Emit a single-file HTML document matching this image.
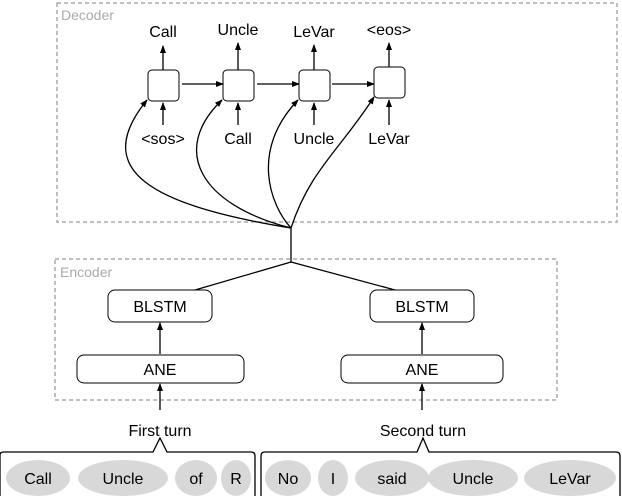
<!DOCTYPE html>
<html><head><style>
body{margin:0;background:#fff;}
svg text{font-family:"Liberation Sans",sans-serif;}
</style></head><body>
<svg width="622" height="496" viewBox="0 0 622 496" xmlns="http://www.w3.org/2000/svg">
<defs><marker id="a" markerWidth="8" markerHeight="8" refX="7" refY="4" orient="auto" markerUnits="userSpaceOnUse"><path d="M0,1 L8,4 L0,7 z" fill="#000"/></marker></defs>
<rect x="57" y="3" width="560" height="219" fill="none" stroke="#aaa" stroke-width="1.5" stroke-dasharray="4,3"/>
<text x="61" y="20" font-size="14" fill="#aaa">Decoder</text>
<rect x="55" y="259" width="502" height="141" fill="none" stroke="#aaa" stroke-width="1.5" stroke-dasharray="4,3"/>
<text x="60" y="277" font-size="14" fill="#aaa">Encoder</text>
<g fill="#fff" stroke="#000" stroke-width="1">
<rect x="148" y="70" width="31" height="31" rx="4"/>
<rect x="223" y="70" width="31" height="31" rx="4"/>
<rect x="299" y="70" width="31" height="31" rx="4"/>
<rect x="374" y="67" width="31" height="31" rx="4"/>
</g>
<g stroke="#000" stroke-width="1.3" marker-end="url(#a)" fill="none">
<line x1="163" y1="70" x2="163" y2="46"/><line x1="238" y1="70" x2="238" y2="43"/>
<line x1="314" y1="70" x2="314" y2="45"/><line x1="389" y1="67" x2="389" y2="43"/>
<line x1="163" y1="125" x2="163" y2="103"/><line x1="238" y1="125" x2="238" y2="103"/>
<line x1="314" y1="125" x2="314" y2="103"/><line x1="389" y1="125" x2="389" y2="100"/>
<line x1="182" y1="84" x2="223" y2="84"/><line x1="257" y1="84" x2="299" y2="84"/><line x1="332" y1="84" x2="374" y2="84"/>
<path d="M291,228 C150,205 90,170 147,100"/>
<path d="M291,228 C200,205 170,150 222,100"/>
<path d="M291,228 C270,205 250,150 298,100"/>
<path d="M291,228 C310,170 340,150 374,97"/>
<path d="M160,354 L160,323"/><path d="M422,354 L422,323"/>
<path d="M160,410 L160,384"/><path d="M422,410 L422,384"/>
</g>
<g stroke="#000" stroke-width="1.3" fill="none">
<line x1="291" y1="228" x2="291" y2="262"/>
<line x1="291" y1="262" x2="195" y2="290"/><line x1="291" y1="262" x2="395" y2="290"/>
</g>
<g font-size="16" text-anchor="middle">
<text x="163" y="37">Call</text><text x="238" y="35">Uncle</text><text x="314" y="37">LeVar</text><text x="389" y="35">&lt;eos&gt;</text>
<text x="163" y="144">&lt;sos&gt;</text><text x="238" y="144">Call</text><text x="314" y="144">Uncle</text><text x="389" y="144">LeVar</text>
</g>
<g fill="#fff" stroke="#000" stroke-width="1">
<rect x="108" y="290" width="104" height="32" rx="7"/><rect x="370" y="290" width="104" height="32" rx="7"/>
<rect x="77" y="355" width="167" height="28" rx="7"/><rect x="341" y="355" width="162" height="28" rx="7"/>
</g>
<g font-size="16" text-anchor="middle">
<text x="160" y="312">BLSTM</text><text x="422" y="312">BLSTM</text>
<text x="160" y="375">ANE</text><text x="422" y="375">ANE</text>
<text x="160" y="436">First turn</text><text x="423" y="436">Second turn</text>
</g>
<g fill="none" stroke="#000" stroke-width="1.3">
<path d="M0,496 L0,455 Q0,452 4,452 L153,452 L160,438 L167,452 L251,452 Q255,452 255,456 L255,496"/>
<path d="M261,496 L261,456 Q261,452 265,452 L417,452 L423,438 L429,452 L616,452 Q620,452 620,456 L620,496"/>
</g>
<g fill="#d8d8d8">
<ellipse cx="38" cy="478" rx="32" ry="18"/><ellipse cx="123" cy="478" rx="45" ry="18"/>
<ellipse cx="196" cy="478" rx="21" ry="18"/><ellipse cx="236" cy="478" rx="15" ry="18"/>
<ellipse cx="288" cy="478" rx="23" ry="18"/><ellipse cx="333" cy="478" rx="15" ry="18"/>
<ellipse cx="392" cy="478" rx="37" ry="18"/><ellipse cx="473" cy="478" rx="45" ry="18"/>
<ellipse cx="570" cy="478" rx="46" ry="18"/>
</g>
<g font-size="16" text-anchor="middle">
<text x="38" y="484">Call</text><text x="123" y="484">Uncle</text><text x="196" y="484">of</text><text x="236" y="484">R</text>
<text x="288" y="484">No</text><text x="333" y="484">I</text><text x="392" y="484">said</text><text x="473" y="484">Uncle</text><text x="570" y="484">LeVar</text>
</g>
</svg>
</body></html>
